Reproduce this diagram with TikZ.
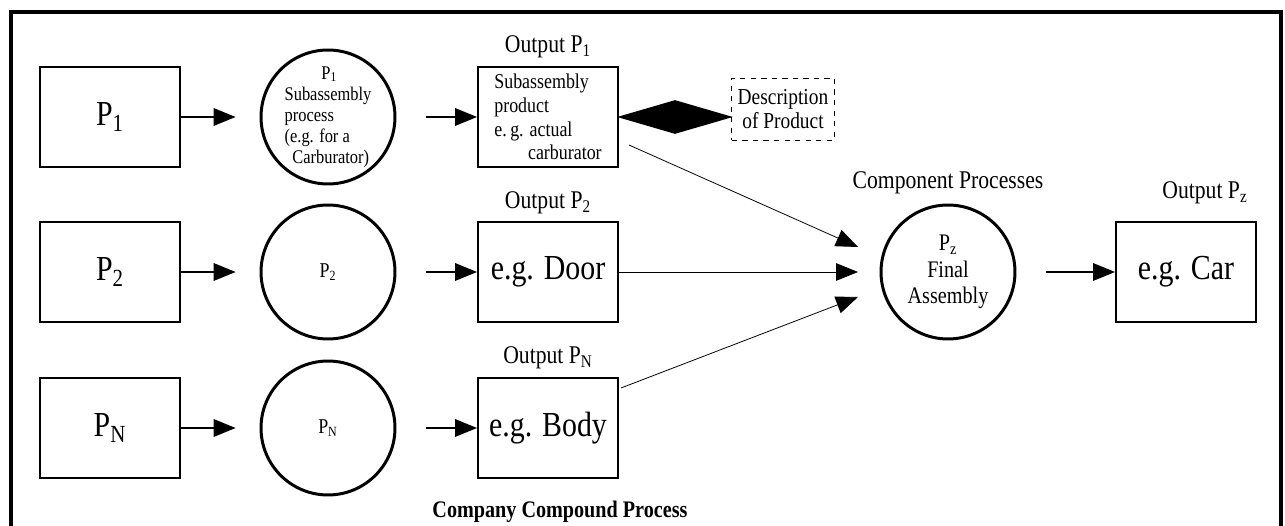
\documentclass[tikz,border=0pt]{standalone}
\usepackage{fontspec}
\setmainfont[FakeStretch=0.85]{Liberation Serif}
\usetikzlibrary{arrows.meta, shapes.geometric, positioning}

\tikzset{
    procbox/.style={draw, line width=1.1pt, minimum width=2.8cm, minimum height=2cm, inner sep=0pt},
    proc/.style={draw, circle, line width=1.7pt, minimum size=2.68cm, inner sep=0pt, align=center},
    lbl/.style={font=\fontsize{14.5}{16}\selectfont},
    flow/.style={-{Triangle[length=12.5pt,width=10pt]}, line width=0.8pt},
    feed/.style={-{Triangle[length=12.5pt,width=10pt]}, line width=0.45pt}
}

\begin{document}
\begin{tikzpicture}[x=0.02cm, y=-0.02cm]
    \useasboundingbox (0,0) rectangle (1285,526);
    \draw [line width=1.8pt] (11,526) -- (11,12) -- (1281,12) -- (1281,526);

    % inputs
    \node [procbox, font=\fontsize{20}{22}\selectfont] (Pa) at (110,117) {P\textsubscript{1}};
    \node [procbox, font=\fontsize{20}{22}\selectfont] (Pb) at (110,272) {P\textsubscript{2}};
    \node [procbox, font=\fontsize{20}{22}\selectfont] (Pn) at (110,428) {P\textsubscript{N}};

    % processes
    \node [proc, align=left, inner sep=-4pt, font=\fontsize{11}{12}\selectfont] (Ca) at (328,117)
        {\hspace{1.9em}P\textsubscript{1}\\Subassembly\\process\\(e.g. for a\\\hspace{0.4em}Carburator)};
    \node [proc, font=\fontsize{12}{13}\selectfont] (Cb) at (328,272) {P\textsubscript{2}};
    \node [proc, font=\fontsize{12}{13}\selectfont] (Cn) at (328,428) {P\textsubscript{N}};

    % outputs
    \node [procbox, align=left, inner xsep=5pt, font=\fontsize{12}{13.5}\selectfont] (Oa) at (548,117)
        {Subassembly\\product\\e.\,g. actual\\\hspace{1.6em}carburator};
    \node [procbox, font=\fontsize{20}{22}\selectfont] (Ob) at (548,272) {e.g. Door};
    \node [procbox, font=\fontsize{20}{22}\selectfont] (On) at (548,428) {e.g. Body};
    \node [lbl] (La) at (548,47) {Output P\textsubscript{1}};
    \node [lbl] (Lb) at (548,203) {Output P\textsubscript{2}};
    \node [lbl] (Ln) at (548,358) {Output P\textsubscript{N}};

    \node [diamond, fill=black, minimum width=2.32cm, minimum height=0.68cm, inner sep=0pt] (Dm) at (675,117) {};
    \node [draw, dashed, line width=0.5pt, minimum width=2.02cm, minimum height=1.24cm, align=center,
        font=\fontsize{13}{14}\selectfont] (Ds) at (783,109) {Description\\of Product};

    % final assembly
    \node [proc, font=\fontsize{13.5}{15}\selectfont] (Fz) at (948,272) {P\textsubscript{z}\\Final\\Assembly};
    \node [lbl] (Lc) at (948,183) {Component Processes};
    \node [procbox, font=\fontsize{20}{22}\selectfont] (Oz) at (1186,272) {e.g. Car};
    \node [lbl] (Lz) at (1205,193) {Output P\textsubscript{z}};

    \node [font=\bfseries\fontsize{13.5}{16}\selectfont] (Tt) at (560,512) {Company Compound Process};

    \foreach \r in {a,b,n} {
        \draw [flow, shorten >=13.6pt] (P\r) -- (C\r);
        \draw [flow, shorten <=17pt] (C\r) -- (O\r);
    }
    \draw [feed] ([shift={(10,28)}]Oa.east) -- ([shift={(-90,-25)}]Fz.center);
    \draw [feed] (Ob) -- ([shift={(-90,0)}]Fz.center);
    \draw [feed] ([shift={(2,-40)}]On.east) -- ([shift={(-90,25)}]Fz.center);
    \draw [flow, shorten <=17pt] (Fz) -- (Oz);
\end{tikzpicture}
\end{document}
